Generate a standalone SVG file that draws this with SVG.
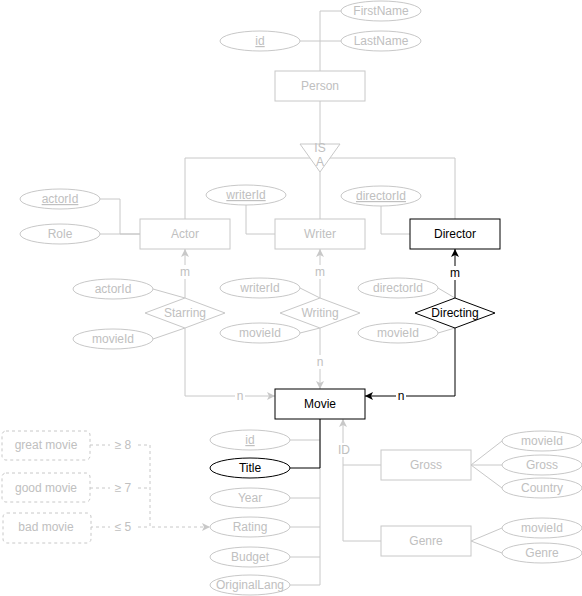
<svg xmlns="http://www.w3.org/2000/svg" width="582" height="596" viewBox="0 0 582 596">
<style>
.gs{fill:#fff;stroke:#c8c8c8;stroke-width:1}
.bs{fill:#fff;stroke:#000;stroke-width:1}
.ds{fill:#fff;stroke:#c8c8c8;stroke-width:1;stroke-dasharray:3 3}
text{font-family:"Liberation Sans",Arial,Helvetica,sans-serif;font-size:12px;text-anchor:middle}
.gt{fill:#c0c0c0}
.bt{fill:#000}
.u{text-decoration:underline}
.c{fill:none;stroke:#c8c8c8;stroke-width:1}
.cb{fill:none;stroke:#000;stroke-width:1}
.cd{fill:none;stroke:#c8c8c8;stroke-width:1;stroke-dasharray:3 3}
.lb{fill:#fff;stroke:none}
</style>
<defs>
<marker id="ag" markerUnits="userSpaceOnUse" markerWidth="10" markerHeight="10" refX="8" refY="4" orient="auto"><path d="M0,0 L8,4 L0,8 L2,4 Z" fill="#c8c8c8"/></marker>
<marker id="ab" markerUnits="userSpaceOnUse" markerWidth="10" markerHeight="10" refX="8" refY="4" orient="auto"><path d="M0,0 L8,4 L0,8 L2,4 Z" fill="#000"/></marker>
</defs>
<rect width="582" height="596" fill="#fff"/>
<g id="connectors">
<path class="c" d="M320,71 V11 H341"/>
<path class="c" d="M300,41 H341"/>
<path class="c" d="M320,101 V144"/>
<path class="c" d="M185,219 V158 H455 V219"/>
<path class="c" d="M320,172 V219"/>
<path class="c" d="M100,199 H120 V234 H140"/>
<path class="c" d="M100,234 H140"/>
<path class="c" d="M246,205 V234 H275"/>
<path class="c" d="M381,206 V234 H410"/>
<path class="c" d="M185,298 V249" marker-end="url(#ag)"/>
<path class="c" d="M153,289 L185,298"/>
<path class="c" d="M153,339 L185,328"/>
<path class="c" d="M185,328 V396 H275" marker-end="url(#ag)"/>
<path class="c" d="M320,298 V249" marker-end="url(#ag)"/>
<path class="c" d="M300,288 L320,298"/>
<path class="c" d="M300,333 L320,328"/>
<path class="c" d="M320,328 V389" marker-end="url(#ag)"/>
<path class="c" d="M438,288 L455,298"/>
<path class="c" d="M438,333 L455,328"/>
<path class="cb" d="M455,298 V249" marker-end="url(#ab)"/>
<path class="cb" d="M455,328 V396 H365" marker-end="url(#ab)"/>
<path class="c" d="M320,419 V585 H290"/>
<path class="c" d="M290,440 H320"/>
<path class="c" d="M290,498 H320"/>
<path class="c" d="M290,527 H320"/>
<path class="c" d="M290,557 H320"/>
<path class="cb" d="M320,419 V468 H290"/>
<path class="cd" d="M90,445 H150 V527 H210" marker-end="url(#ag)"/>
<path class="cd" d="M90,488 H150"/>
<path class="cd" d="M90,527 H150"/>
<path class="c" d="M381,465 H343"/>
<path class="c" d="M381,541 H343 V419" marker-end="url(#ag)"/>
<path class="c" d="M471,465 L502,441 M471,465 H502 M471,465 L502,488"/>
<path class="c" d="M471,541 L502,528 M471,541 L502,553"/>
<rect class="lb" x="179" y="265" width="12" height="14"/><text class="gt" x="185" y="276">m</text>
<rect class="lb" x="314" y="265" width="12" height="14"/><text class="gt" x="320" y="276">m</text>
<rect class="lb" x="449" y="266" width="12" height="14"/><text class="bt" x="455" y="277">m</text>
<rect class="lb" x="235" y="389" width="10" height="14"/><text class="gt" x="240" y="400">n</text>
<rect class="lb" x="315" y="355" width="10" height="14"/><text class="gt" x="320" y="366">n</text>
<rect class="lb" x="396" y="389" width="10" height="14"/><text class="bt" x="401" y="400">n</text>
<rect class="lb" x="336" y="443" width="16" height="14"/><text class="gt" x="344" y="454">ID</text>
<rect class="lb" x="110" y="438" width="26" height="14"/><text class="gt" x="123" y="449">≥ 8</text>
<rect class="lb" x="110" y="481" width="26" height="14"/><text class="gt" x="123" y="492">≥ 7</text>
<rect class="lb" x="110" y="520" width="26" height="14"/><text class="gt" x="123" y="531">≤ 5</text>
</g>
<g id="person"><rect class="gs" x="275" y="71" width="90" height="30"/><text class="gt" x="320" y="90">Person</text></g>
<g id="person-firstname"><ellipse class="gs" cx="381" cy="11" rx="40" ry="10"/><text class="gt" x="381" y="15">FirstName</text></g>
<g id="person-lastname"><ellipse class="gs" cx="381" cy="41" rx="40" ry="10"/><text class="gt" x="381" y="45">LastName</text></g>
<g id="person-id"><ellipse class="gs" cx="260" cy="41" rx="40" ry="10"/><text class="gt u" x="260" y="45">id</text></g>
<g id="isa"><polygon class="gs" points="300,144 340,144 320,172"/><text class="gt" x="320" y="152">IS</text><text class="gt" x="320" y="166">A</text></g>
<g id="actor"><rect class="gs" x="140" y="219" width="90" height="30"/><text class="gt" x="185" y="238">Actor</text></g>
<g id="actor-actorid"><ellipse class="gs" cx="60" cy="199" rx="40" ry="10"/><text class="gt u" x="60" y="203">actorId</text></g>
<g id="actor-role"><ellipse class="gs" cx="60" cy="234" rx="40" ry="10"/><text class="gt" x="60" y="238">Role</text></g>
<g id="writer"><rect class="gs" x="275" y="219" width="90" height="30"/><text class="gt" x="320" y="238">Writer</text></g>
<g id="writer-writerid"><ellipse class="gs" cx="246" cy="195" rx="40" ry="10"/><text class="gt u" x="246" y="199">writerId</text></g>
<g id="director"><rect class="bs" x="410" y="219" width="90" height="30"/><text class="bt" x="455" y="238">Director</text></g>
<g id="director-directorid"><ellipse class="gs" cx="381" cy="196" rx="40" ry="10"/><text class="gt u" x="381" y="200">directorId</text></g>
<g id="starring"><polygon class="gs" points="145,313 185,298 225,313 185,328"/><text class="gt" x="185" y="317">Starring</text></g>
<g id="starring-actorid"><ellipse class="gs" cx="113" cy="289" rx="40" ry="10"/><text class="gt" x="113" y="293">actorId</text></g>
<g id="starring-movieid"><ellipse class="gs" cx="113" cy="339" rx="40" ry="10"/><text class="gt" x="113" y="343">movieId</text></g>
<g id="writing"><polygon class="gs" points="280,313 320,298 360,313 320,328"/><text class="gt" x="320" y="317">Writing</text></g>
<g id="writing-writerid"><ellipse class="gs" cx="260" cy="288" rx="40" ry="10"/><text class="gt" x="260" y="292">writerId</text></g>
<g id="writing-movieid"><ellipse class="gs" cx="260" cy="333" rx="40" ry="10"/><text class="gt" x="260" y="337">movieId</text></g>
<g id="directing"><polygon class="bs" points="415,313 455,298 495,313 455,328"/><text class="bt" x="455" y="317">Directing</text></g>
<g id="directing-directorid"><ellipse class="gs" cx="398" cy="288" rx="40" ry="10"/><text class="gt" x="398" y="292">directorId</text></g>
<g id="directing-movieid"><ellipse class="gs" cx="398" cy="333" rx="40" ry="10"/><text class="gt" x="398" y="337">movieId</text></g>
<g id="movie"><rect class="bs" x="275" y="389" width="90" height="30"/><text class="bt" x="320" y="408">Movie</text></g>
<g id="movie-id"><ellipse class="gs" cx="250" cy="440" rx="40" ry="10"/><text class="gt u" x="250" y="444">id</text></g>
<g id="movie-title"><ellipse class="bs" cx="250" cy="468" rx="40" ry="10"/><text class="bt" x="250" y="472">Title</text></g>
<g id="movie-year"><ellipse class="gs" cx="250" cy="498" rx="40" ry="10"/><text class="gt" x="250" y="502">Year</text></g>
<g id="movie-rating"><ellipse class="gs" cx="250" cy="527" rx="40" ry="10"/><text class="gt" x="250" y="531">Rating</text></g>
<g id="movie-budget"><ellipse class="gs" cx="250" cy="557" rx="40" ry="10"/><text class="gt" x="250" y="561">Budget</text></g>
<g id="movie-originallang"><ellipse class="gs" cx="250" cy="585" rx="40" ry="10"/><text class="gt" x="250" y="589">OriginalLang</text></g>
<g id="great-movie"><rect class="ds" x="2" y="431" width="88" height="29" rx="4"/><text class="gt" x="46" y="449">great movie</text></g>
<g id="good-movie"><rect class="ds" x="2" y="473" width="88" height="29" rx="4"/><text class="gt" x="46" y="492">good movie</text></g>
<g id="bad-movie"><rect class="ds" x="3" y="513" width="88" height="30" rx="4"/><text class="gt" x="46" y="531">bad movie</text></g>
<g id="gross"><rect class="gs" x="381" y="450" width="90" height="30"/><text class="gt" x="426" y="469">Gross</text></g>
<g id="gross-movieid"><ellipse class="gs" cx="542" cy="441" rx="40" ry="10"/><text class="gt" x="542" y="445">movieId</text></g>
<g id="gross-gross"><ellipse class="gs" cx="542" cy="465" rx="40" ry="10"/><text class="gt" x="542" y="469">Gross</text></g>
<g id="gross-country"><ellipse class="gs" cx="542" cy="488" rx="40" ry="10"/><text class="gt" x="542" y="492">Country</text></g>
<g id="genre"><rect class="gs" x="381" y="526" width="90" height="30"/><text class="gt" x="426" y="545">Genre</text></g>
<g id="genre-movieid"><ellipse class="gs" cx="542" cy="528" rx="40" ry="10"/><text class="gt" x="542" y="532">movieId</text></g>
<g id="genre-genre"><ellipse class="gs" cx="542" cy="553" rx="40" ry="10"/><text class="gt" x="542" y="557">Genre</text></g>
</svg>
